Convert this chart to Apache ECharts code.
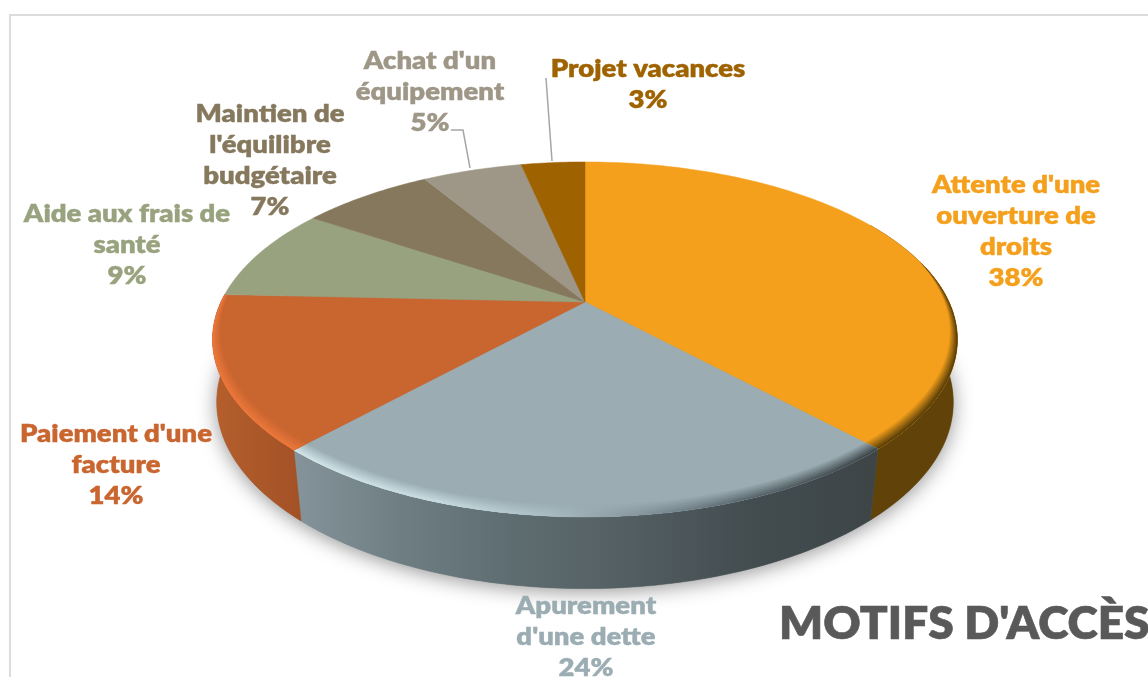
<!DOCTYPE html>
<html>
<head>
<meta charset="utf-8">
<title>Motifs d'accès</title>
<script src="https://cdn.jsdelivr.net/npm/echarts@6/dist/echarts.min.js"></script>
<style>
  html, body { margin: 0; padding: 0; background: #fff; }
  #chart { width: 1148px; height: 677px; }
</style>
</head>
<body>
<div id="chart"></div>
<script>
// data, the labels show them rounded
const motifNames = [
  "Attente d'une\nouverture de\ndroits",
  "Apurement\nd'une dette",
  "Paiement d'une\nfacture",
  'Aide aux frais de\nsanté',
  "Maintien de\nl'équilibre\nbudgétaire",
  "Achat d'un\néquipement",
  'Projet vacances'
];
const motifValues = [38.1, 23.7, 13.9, 8.6, 7.0, 5.3, 3.4];
const motifColors = ['#F4A01C', '#9BADB3', '#C9652F', '#99A27F', '#85785D', '#9E9687', '#9F6200'];
const titleText = "MOTIFS D'ACCÈS";

// side wall and rim colours, offsets run over the width of the pie
const sideStops = [
  [[0, '#614208'], [1, '#614208']],
  [[0.11, '#84949A'], [0.25, '#6E7E83'], [0.4, '#5E6D71'], [0.55, '#545F63'], [0.72, '#434D50'], [0.88, '#3D4547']],
  [[0, '#B65F2C'], [0.05, '#AD592A'], [0.12, '#A25126']],
  null, null, null, null
];
const rimStops = [
  [[0, '#5E4108'], [1, '#5E4108']],
  [[0.1, '#D0E4E8'], [0.3, '#C6DADF'], [0.45, '#A9BCC2'], [0.7, '#5F6E74'], [0.9, '#3D4649']],
  [[0, '#EA763A'], [1, '#EA763A']],
  null, null, null, null
];

// labels are placed by hand, like in the original slide
const labelCenters = [[1016, 169], [586, 590], [116, 418], [127, 198], [270, 98], [430, 45], [648, 53]];

// pie geometry, k is the perspective of the tilted disc
const pieX = 585, topY = 302, baseY = 363, k = 0.211;
const topA = 364, topB = 169.6, baseA = 360, baseB = 178, baseTwist = 0.98;
const pieLeft = 213, pieRight = 958;

const total = motifValues.reduce((a, b) => a + b, 0);
function sliceRange(i) {
  const before = motifValues.slice(0, i).reduce((a, b) => a + b, 0);
  return [before / total * 360, (before + motifValues[i]) / total * 360];
}
function project(deg, r, A, B, cy) {
  const t = deg * Math.PI / 180;
  const x = Math.sin(t) * r, y = -Math.cos(t) * r;
  const d = 1 - k * y;
  return [pieX + A * x / d, cy + B * y / d];
}
function arc(a, b, fn) {
  const pts = [];
  const n = Math.max(2, Math.ceil(Math.abs(b - a)));
  for (let i = 0; i <= n; i++) pts.push(fn(a + (b - a) * i / n));
  return pts;
}
function rimWidth(deg) {
  const y = -Math.cos(deg * Math.PI / 180);
  return 0.045 * Math.pow(Math.max(0, (y + 0.25) / 1.25), 0.8);
}
function hexMix(c1, c2, m) {
  const p = (c) => [1, 3, 5].map((i) => parseInt(c.substr(i, 2), 16));
  const a = p(c1), b = p(c2);
  return 'rgb(' + a.map((v, i) => Math.round(v + (b[i] - v) * m)).join(',') + ')';
}
function xGradient(stops, fn) {
  return new echarts.graphic.LinearGradient(pieLeft, 0, pieRight, 0,
    stops.map((s) => ({ offset: s[0], color: fn ? fn(s[1]) : s[1] })), true);
}

function renderSide(params) {
  const i = params.dataIndex;
  const children = [];
  if (i === 0) {
    // soft shadow under the whole disc
    children.push({
      type: 'polygon',
      shape: { points: arc(0, 360, (d) => project(d, 1, baseA, baseB, baseY)) },
      style: { fill: '#8a8a8a', shadowColor: 'rgba(0,0,0,0.42)', shadowBlur: 20, shadowOffsetX: 0, shadowOffsetY: 3 }
    });
  }
  const range = sliceRange(i);
  const a = Math.max(range[0], 60), b = Math.min(range[1], 300);
  if (sideStops[i] && b > a) {
    const top = arc(a, b, (d) => project(d, 1, topA, topB, topY));
    const base = arc(a, b, (d) => project(180 + (d - 180) * baseTwist, 1, baseA, baseB, baseY)).reverse();
    const fill = xGradient(sideStops[i]);
    children.push({
      type: 'polygon',
      shape: { points: top.concat(base) },
      style: { fill: fill, stroke: fill, lineWidth: 0.5 }
    });
  }
  return { type: 'group', children: children };
}

function renderTop(params) {
  const i = params.dataIndex;
  const range = sliceRange(i);
  const rim = arc(range[0], range[1], (d) => project(d, 1, topA, topB, topY));
  const children = [{
    type: 'polygon',
    shape: { points: [[pieX, topY]].concat(rim) },
    style: { fill: motifColors[i], stroke: motifColors[i], lineWidth: 0.5 }
  }];
  if (rimStops[i]) {
    const rings = 7;
    for (let j = 0; j < rings; j++) {
      const keep = 1 - j / rings;
      const inner = arc(range[0], range[1], (d) => project(d, 1 - rimWidth(d) * keep, topA, topB, topY)).reverse();
      children.push({
        type: 'polygon',
        shape: { points: rim.concat(inner) },
        style: { fill: xGradient(rimStops[i], (c) => hexMix(motifColors[i], c, (j + 1) / rings)) }
      });
    }
  }
  return { type: 'group', children: children };
}

function renderLabel(params) {
  const i = params.dataIndex;
  return {
    type: 'text',
    x: labelCenters[i][0],
    y: labelCenters[i][1],
    scaleX: 1.1,
    style: {
      text: motifNames[i] + '\n' + Math.round(motifValues[i]) + '%',
      fill: motifColors[i],
      stroke: motifColors[i],
      lineWidth: 0.4,
      font: '800 25px Lato',
      lineHeight: 31,
      align: 'center',
      verticalAlign: 'top'
    }
  };
}

const chart = echarts.init(document.getElementById('chart'));
chart.setOption({
  animation: false,
  backgroundColor: '#fff',
  graphic: [
    { type: 'line', shape: { x1: 10, y1: 15, x2: 1148, y2: 15 }, style: { stroke: '#DCDCDC', lineWidth: 2 } },
    { type: 'line', shape: { x1: 10, y1: 14, x2: 10, y2: 677 }, style: { stroke: '#DCDCDC', lineWidth: 2 } },
    { type: 'polyline', shape: { points: [[451, 130], [463, 130], [470, 168]] }, style: { stroke: '#A6A6A6', lineWidth: 1.5, fill: null } },
    { type: 'line', shape: { x1: 546, y1: 78, x2: 552, y2: 161 }, style: { stroke: '#A6A6A6', lineWidth: 1.5 } },
    { type: 'text', x: 779, y: 624, style: { text: titleText, fill: '#595959', stroke: '#595959', lineWidth: 0.6, font: '800 46px Lato', verticalAlign: 'middle' } }
  ],
  series: [
    { type: 'custom', coordinateSystem: 'none', silent: true, data: motifValues, renderItem: renderSide },
    { type: 'custom', coordinateSystem: 'none', silent: true, data: motifValues, renderItem: renderTop },
    { type: 'custom', coordinateSystem: 'none', silent: true, data: motifValues, renderItem: renderLabel }
  ]
});
</script>
</body>
</html>
